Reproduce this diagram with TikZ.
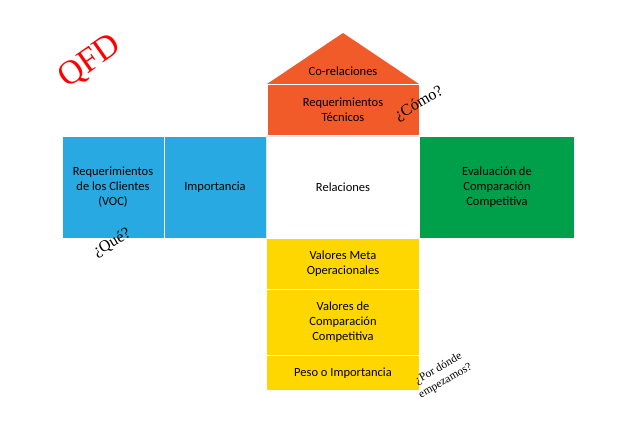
\documentclass[tikz,border=0pt]{standalone}
\usepackage{fontspec}
\setmainfont{Carlito}
\newfontfamily\serifq{Liberation Serif}
\definecolor{orng}{HTML}{F15A29}
\definecolor{blu}{HTML}{29A9E1}
\definecolor{grn}{HTML}{00A04B}
\definecolor{yel}{HTML}{FFD700}
\begin{document}
\begin{tikzpicture}[x=1pt,y=-1pt,
 box/.style={draw=white,line width=0.8pt,align=center,font=\fontsize{12.5}{15}\selectfont,inner sep=0pt},
 q/.style={font=\serifq\fontsize{16}{17}\selectfont,align=center}]
\useasboundingbox (0,0) rectangle (640,426);
\fill[white] (0,0) rectangle (640,426);
\fill[orng] (267,84) -- (343,33) -- (419,84) -- cycle;
\node[font=\fontsize{12.5}{15}\selectfont] (corel) at (343,71) {Co-relaciones};
\node[box,fill=orng,minimum width=152pt,minimum height=51pt] (tec) at (343,110) {Requerimientos\\Técnicos};
\node[box,fill=blu,minimum width=102pt,minimum height=102pt] (voc) at (113,187) {Requerimientos\\de los Clientes\\(VOC)};
\node[box,fill=blu,minimum width=102pt,minimum height=102pt] (imp) at (215,187) {Importancia};
\node[box,draw=gray!20,fill=white,minimum width=153pt,minimum height=102pt] (rel) at (343,187) {Relaciones};
\node[box,fill=grn,minimum width=155pt,minimum height=102pt] (eval) at (497,187) {Evaluación de\\Comparación\\Competitiva};
\node[box,fill=yel,minimum width=153pt,minimum height=51pt] (meta) at (343,264) {Valores Meta\\Operacionales};
\node[box,fill=yel,minimum width=153pt,minimum height=66pt] (comp) at (343,322) {Valores de\\Comparación\\Competitiva};
\node[box,fill=yel,minimum width=153pt,minimum height=35pt] (peso) at (343,373) {Peso o Importancia};
\node[q,text=red,font=\serifq\fontsize{34}{36}\selectfont,rotate=35] (qfd) at (90,62) {QFD};
\node[q,rotate=30] (como) at (419,104) {¿Cómo?};
\node[q,rotate=30] (que) at (112,243) {¿Qué?};
\node[q,font=\serifq\fontsize{11.5}{14}\selectfont,rotate=30] (donde) at (442,375) {¿Por dónde\\empezamos?};
\end{tikzpicture}
\end{document}
